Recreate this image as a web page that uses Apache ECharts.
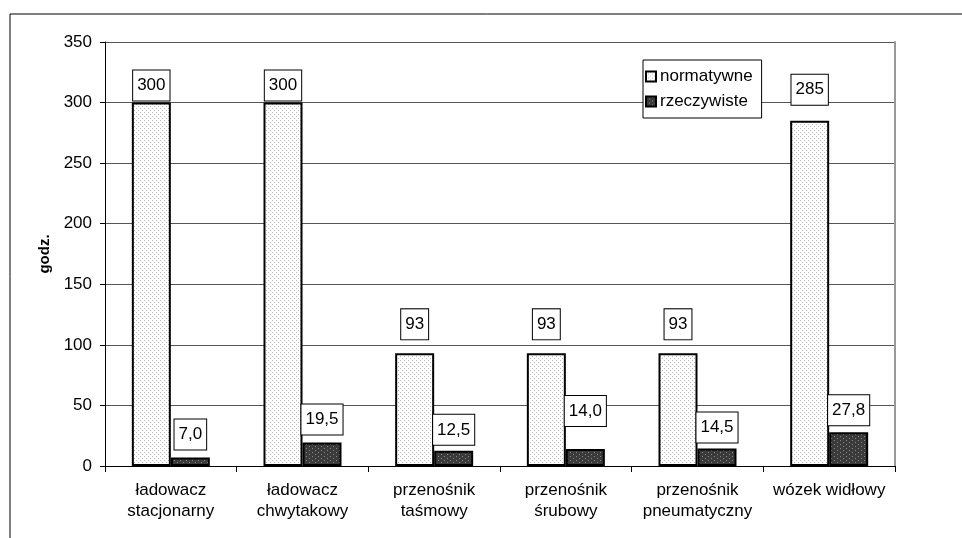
<!DOCTYPE html>
<html>
<head>
<meta charset="utf-8">
<script src="https://cdn.jsdelivr.net/npm/echarts@6/dist/echarts.min.js"></script>
<style>
html,body{margin:0;padding:0;background:#fff;}
#chart{width:962px;height:538px;}
</style>
</head>
<body>
<div id="chart"></div>
<script>
// ---- data ----
var categories = ['ładowacz\nstacjonarny', 'ładowacz\nchwytakowy', 'przenośnik\ntaśmowy', 'przenośnik\nśrubowy', 'przenośnik\npneumatyczny', 'wózek widłowy'];
var normatywne = [300, 300, 93, 93, 93, 285];
var rzeczywiste = [7.0, 19.5, 12.5, 14.0, 14.5, 27.8];
var seriesNames = ['normatywne', 'rzeczywiste'];
var yTicks = {min: 0, max: 350, interval: 50};

// label lift above bars (style only)
var liftNorm = [2, 2, 14, 14, 14, 16];
var liftReal = [8, 8, 6, 23, 6, 7];

var FONT = "Arial, 'Liberation Sans', sans-serif";

function makePattern(bg, dot, w, h, dots) {
  var c = document.createElement('canvas');
  c.width = w; c.height = h;
  var ctx = c.getContext('2d');
  ctx.fillStyle = bg; ctx.fillRect(0, 0, w, h);
  ctx.fillStyle = dot;
  dots.forEach(function (p) { ctx.fillRect(p[0], p[1], 1, 1); });
  return {image: c, repeat: 'repeat'};
}
var lightPat = makePattern('#ffffff', '#b8b8b8', 4, 4, [[0, 0], [2, 2]]);
var darkPat = makePattern('#3a3a3a', '#8a8a8a', 6, 4, [[0, 0], [3, 2]]);

function fmt(v) { return v.toFixed(1).replace('.', ','); }

var labelBox = {
  show: true,
  position: 'top',
  color: '#000',
  fontFamily: FONT,
  fontSize: 17,
  lineHeight: 18,
  backgroundColor: '#fff',
  borderColor: '#000',
  borderWidth: 1,
  padding: [6, 4, 6, 4]
};

function buildData(vals, lifts, formatter) {
  return vals.map(function (v, i) {
    return {
      value: v,
      label: Object.assign({}, labelBox, {distance: lifts[i], formatter: formatter(v)})
    };
  });
}

var chart = echarts.init(document.getElementById('chart'));
chart.setOption({
  animation: false,
  backgroundColor: '#fff',
  textStyle: {fontFamily: FONT},
  graphic: [{
    type: 'rect',
    shape: {x: 10, y: 14, width: 1000, height: 1000},
    style: {fill: 'none', stroke: '#000', lineWidth: 1},
    silent: true, z: -10
  }],
  grid: {left: 105, top: 42, right: 67, bottom: 72},
  legend: {
    data: seriesNames,
    orient: 'vertical',
    left: 643,
    top: 60,
    itemWidth: 10,
    itemHeight: 10,
    itemGap: 6,
    padding: [7, 9, 7, 2],
    backgroundColor: '#fff',
    borderColor: '#000',
    borderWidth: 1,
    borderRadius: 0,
    icon: 'rect',
    textStyle: {fontFamily: FONT, fontSize: 17, color: '#000', lineHeight: 19, padding: [0, 0, 0, -1]}
  },
  xAxis: {
    type: 'category',
    data: categories,
    boundaryGap: true,
    axisLine: {lineStyle: {color: '#000', width: 1}},
    axisTick: {show: true, interval: 0, length: 6, lineStyle: {color: '#000'}},
    axisLabel: {interval: 0, margin: 14, color: '#000', fontFamily: FONT, fontSize: 17, lineHeight: 21}
  },
  yAxis: [{
    type: 'value',
    min: yTicks.min, max: yTicks.max, interval: yTicks.interval,
    name: 'godz.',
    nameLocation: 'middle',
    nameRotate: 90,
    nameGap: 51,
    nameTextStyle: {fontFamily: FONT, fontSize: 15, fontWeight: 'bold', color: '#000'},
    axisLine: {show: true, lineStyle: {color: '#000', width: 1}},
    axisTick: {show: true, length: 5, lineStyle: {color: '#000'}},
    axisLabel: {margin: 13, color: '#000', fontFamily: FONT, fontSize: 17},
    splitLine: {show: true, lineStyle: {color: '#555', width: 1}}
  }, {
    type: 'value',
    position: 'right',
    min: yTicks.min, max: yTicks.max, interval: yTicks.interval,
    axisLine: {show: true, lineStyle: {color: '#999', width: 2}},
    axisTick: {show: false},
    axisLabel: {show: false},
    splitLine: {show: false}
  }],
  series: [{
    name: seriesNames[0],
    type: 'bar',
    barWidth: 39,
    barGap: '0%',
    itemStyle: {color: lightPat, borderColor: '#000', borderWidth: 2},
    data: buildData(normatywne, liftNorm, function (v) { return String(v); })
  }, {
    name: seriesNames[1],
    type: 'bar',
    barWidth: 39,
    barGap: '0%',
    itemStyle: {color: darkPat, borderColor: '#000', borderWidth: 2},
    data: buildData(rzeczywiste, liftReal, fmt)
  }]
});
</script>
</body>
</html>
